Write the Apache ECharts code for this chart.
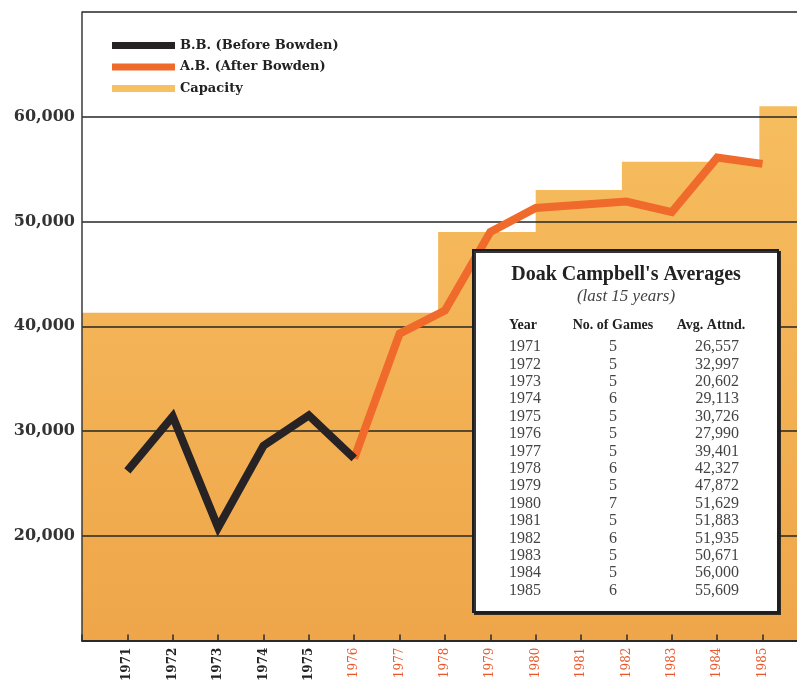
<!DOCTYPE html>
<html>
<head>
<meta charset="utf-8">
<title>Doak Campbell's Averages</title>
<script src="https://cdn.jsdelivr.net/npm/echarts@6/dist/echarts.min.js"></script>
<style>
  html, body { margin: 0; padding: 0; background: #fff; }
  #chart { width: 797px; height: 684px; }
</style>
</head>
<body>
<div id="chart"></div>
<script>
// values
const beforeYears = [1971, 1972, 1973, 1974, 1975, 1976];
const beforeValues = [26200, 31400, 20800, 28600, 31500, 27400];
const afterYears = [1976, 1977, 1978, 1979, 1980, 1981, 1982, 1983, 1984, 1985];
const afterValues = [27400, 39300, 41500, 49000, 51300, 51600, 51900, 50900, 56100, 55500];

// capacity steps (year where each level starts)
const capacityYears = [1970, 1977.85, 1980, 1981.9, 1984.93, 1986];
const capacityValues = [41300, 49000, 53000, 55700, 61000, 61000];

const yTicks = [20000, 30000, 40000, 50000, 60000];

// inset table
const tableYears = [1971, 1972, 1973, 1974, 1975, 1976, 1977, 1978, 1979, 1980, 1981, 1982, 1983, 1984, 1985];
const tableGames = [5, 5, 5, 6, 5, 5, 5, 6, 5, 7, 5, 6, 5, 5, 6];
const tableAttendance = ['26,557', '32,997', '20,602', '29,113', '30,726', '27,990', '39,401', '42,327',
  '47,872', '51,629', '51,883', '51,935', '50,671', '56,000', '55,609'];

const chart = echarts.init(document.getElementById('chart'), null, { renderer: 'canvas' });

const serif = '"Liberation Serif", "Times New Roman", serif';
const wideSerif = '"DejaVu Serif", serif';
const black = '#272324';
const orange = '#ef6a2b';

const pairs = (xs, ys) => xs.map((x, i) => [x, ys[i]]);

const rowH = 17.4;
const tableText = [
  { x: 626, y: 275, text: "Doak Campbell's Averages", font: 'bold 20px ' + serif, align: 'center', fill: '#222' },
  { x: 626, y: 297, text: '(last 15 years)', font: 'italic 17px ' + serif, align: 'center', fill: '#444' },
  { x: 509, y: 325, text: 'Year', font: 'bold 14px ' + serif, align: 'left', fill: '#222' },
  { x: 613, y: 325, text: 'No. of Games', font: 'bold 14px ' + serif, align: 'center', fill: '#222' },
  { x: 711, y: 325, text: 'Avg. Attnd.', font: 'bold 14px ' + serif, align: 'center', fill: '#222' }
];

let option = {
  animation: false,
  backgroundColor: '#fff',
  grid: {
    left: 82,
    right: 0,
    top: 12,
    bottom: 43
  },
  legend: {
    orient: 'vertical',
    left: 107,
    top: 34,
    itemWidth: 63,
    itemHeight: 7,
    itemGap: 8.5,
    icon: 'rect',
    selectedMode: false,
    textStyle: { fontFamily: wideSerif, fontWeight: 'bold', fontSize: 13, color: '#222' },
    data: ['B.B. (Before Bowden)', 'A.B. (After Bowden)', 'Capacity']
  },
  xAxis: {
    type: 'value',
    min: 1970,
    max: 1985.76,
    interval: 1,
    splitLine: { show: false },
    axisLine: { lineStyle: { color: '#2a2a2a', width: 2 } },
    axisTick: { inside: true, length: 6, lineStyle: { color: '#2a2a2a', width: 1.5 } },
    axisLabel: {
      rotate: 90,
      margin: 7,
      showMaxLabel: false,
      formatter: function (v) {
        if (v < 1971 || v > 1985) return '';
        return v < 1976 ? '{b|' + v + '}' : '{o|' + v + '}';
      },
      rich: {
        b: { fontFamily: wideSerif, fontWeight: 'bold', fontSize: 12, color: '#222' },
        o: { fontFamily: wideSerif, fontSize: 12, color: '#e8582a' }
      }
    }
  },
  yAxis: {
    type: 'value',
    min: 10000,
    max: 70000,
    interval: 10000,
    axisLine: { show: true, lineStyle: { color: '#3a3a3a', width: 1.5 } },
    axisTick: { show: false },
    splitLine: { lineStyle: { color: '#262626', width: 1.5 } },
    axisLabel: {
      margin: 7,
      padding: [0, 0, 14, 0],
      fontFamily: wideSerif,
      fontWeight: 'bold',
      fontSize: 16,
      color: '#333',
      formatter: function (v) {
        return yTicks.indexOf(v) >= 0 ? v.toLocaleString('en-US') : '';
      }
    }
  },
  series: [
    {
      name: 'Capacity',
      type: 'line',
      step: 'end',
      z: -1,
      symbol: 'none',
      color: '#f6c063',
      itemStyle: { color: '#f6c063' },
      lineStyle: { width: 0 },
      areaStyle: {
        opacity: 1,
        origin: 'start',
        color: new echarts.graphic.LinearGradient(0, 0, 0, 1, [
          { offset: 0, color: '#f6bd5f' },
          { offset: 1, color: '#efa64a' }
        ])
      },
      data: pairs(capacityYears, capacityValues)
    },
    {
      name: 'A.B. (After Bowden)',
      type: 'line',
      symbol: 'none',
      color: orange,
      itemStyle: { color: orange },
      lineStyle: { width: 8, color: orange, join: 'miter', cap: 'butt' },
      data: pairs(afterYears, afterValues)
    },
    {
      name: 'B.B. (Before Bowden)',
      type: 'line',
      symbol: 'none',
      color: black,
      itemStyle: { color: black },
      lineStyle: { width: 8, color: black, join: 'miter', cap: 'butt' },
      data: pairs(beforeYears, beforeValues)
    }
  ],
  graphic: [
    {
      type: 'rect',
      z: 100,
      shape: { x: 473, y: 250, width: 305, height: 362 },
      style: {
        fill: '#fff',
        stroke: '#1e1e1e',
        lineWidth: 2,
        shadowColor: 'rgba(30,30,30,0.9)',
        shadowOffsetX: 2,
        shadowOffsetY: 2
      }
    }
  ].concat(tableText.map(t => ({
    type: 'text',
    z: 101,
    x: t.x,
    y: t.y,
    style: { text: t.text, font: t.font, fill: t.fill, textAlign: t.align, textVerticalAlign: 'middle' }
  }))).concat([
    {
      type: 'text', z: 101, x: 509, y: 347 - rowH / 2,
      style: { text: tableYears.join('\n'), font: '16px ' + serif, fill: '#444', textAlign: 'left', textVerticalAlign: 'top', lineHeight: rowH }
    },
    {
      type: 'text', z: 101, x: 613, y: 347 - rowH / 2,
      style: { text: tableGames.join('\n'), font: '16px ' + serif, fill: '#444', textAlign: 'center', textVerticalAlign: 'top', lineHeight: rowH }
    },
    {
      type: 'text', z: 101, x: 739, y: 347 - rowH / 2,
      style: { text: tableAttendance.join('\n'), font: '16px ' + serif, fill: '#444', textAlign: 'right', textVerticalAlign: 'top', lineHeight: rowH }
    }
  ])
};

window.addEventListener('resize', function () {
  chart.resize();
});

option && chart.setOption(option);
</script>
</body>
</html>
